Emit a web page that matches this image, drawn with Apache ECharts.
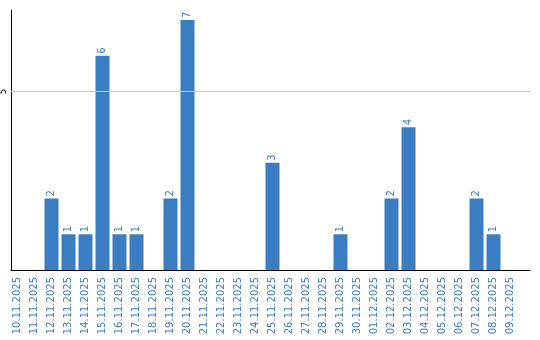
<!DOCTYPE html>
<html><head><meta charset="utf-8">
<script src="https://cdn.jsdelivr.net/npm/echarts@6/dist/echarts.min.js"></script>
<style>html,body{margin:0;padding:0;background:#fff}#c{width:540px;height:340px}</style>
</head><body><div id="c"></div>
<script>
const categories = ["10.11.2025","11.11.2025","12.11.2025","13.11.2025","14.11.2025","15.11.2025","16.11.2025","17.11.2025","18.11.2025","19.11.2025","20.11.2025","21.11.2025","22.11.2025","23.11.2025","24.11.2025","25.11.2025","26.11.2025","27.11.2025","28.11.2025","29.11.2025","30.11.2025","01.12.2025","02.12.2025","03.12.2025","04.12.2025","05.12.2025","06.12.2025","07.12.2025","08.12.2025","09.12.2025"];
const values = [0,0,2,1,1,6,1,1,0,2,7,0,0,0,0,3,0,0,0,1,0,0,2,4,0,0,0,2,1,0];
const yTicks = [5];
const yMax = 7.28;
const blue = '#3b7dc3';
const chart = echarts.init(document.getElementById('c'), null, {renderer:'canvas'});
chart.setOption({
  animation:false,
  grid:[
    {left:10,right:10,top:10,bottom:70,containLabel:false},
    {left:9,right:21,top:10,bottom:70,containLabel:false}
  ],
  xAxis:[
    {gridIndex:0,type:'value',min:0,max:1,
      axisLine:{show:true,lineStyle:{color:'#000',width:1}},
      axisTick:{show:false},axisLabel:{show:false},splitLine:{show:false}},
    {gridIndex:1,type:'category',data:categories,
      axisLine:{show:false},
      axisTick:{show:false},
      axisLabel:{rotate:90,interval:0,color:blue,fontSize:10,fontFamily:'DejaVu Sans',margin:7}}
  ],
  yAxis:[
    {gridIndex:0,type:'value',min:0,max:yMax,interval:5,
      axisLine:{show:true,lineStyle:{color:'#000',width:1}},
      axisTick:{show:false},
      splitLine:{show:false},
      axisLabel:{rotate:90,fontSize:8,color:'#000',fontFamily:'DejaVu Sans',margin:3,
        formatter:v=>yTicks.includes(v)?String(v):''}},
    {gridIndex:1,type:'value',min:0,max:yMax,show:false}
  ],
  series:[
    {type:'line',xAxisIndex:0,yAxisIndex:0,data:[],
      markLine:{silent:true,symbol:'none',label:{show:false},
        lineStyle:{color:'#c8c8c8',type:'solid',width:1},
        data:yTicks.map(t=>({yAxis:t}))}},
    {type:'bar',xAxisIndex:1,yAxisIndex:1,data:values.map(v=>v===0?null:v),barCategoryGap:'17.6%',
      itemStyle:{color:blue},
      label:{show:true,position:'top',rotate:90,align:'left',verticalAlign:'middle',distance:2,
        color:blue,fontSize:10,fontFamily:'DejaVu Sans'}}
  ]
});
</script></body></html>
